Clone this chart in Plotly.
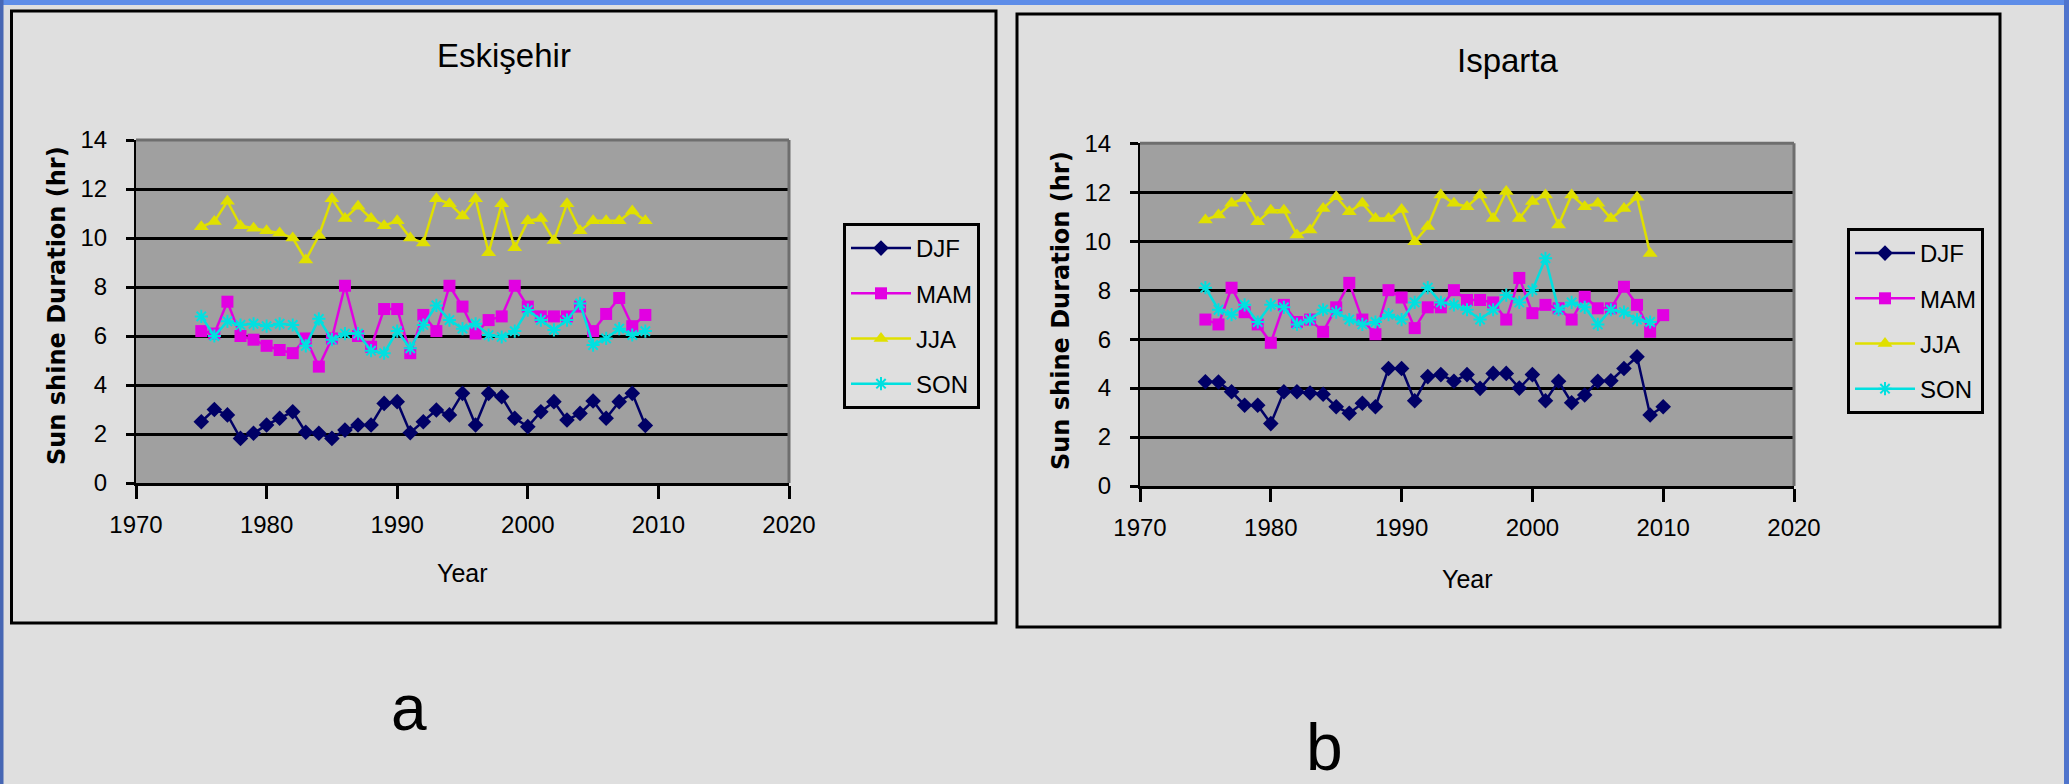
import plotly.graph_objects as go

W, H = 2069, 784

# ---------------- data ----------------
years_e = list(range(1975, 2010))
e_djf = [2.5, 3.0, 2.78, 1.82, 2.03, 2.37, 2.64, 2.91, 2.07, 2.03,
         1.82, 2.16, 2.37, 2.37, 3.25, 3.32, 2.05, 2.5, 2.98, 2.78,
         3.66, 2.37, 3.66, 3.52, 2.64, 2.3, 2.91, 3.32, 2.57, 2.84,
         3.35, 2.64, 3.32, 3.66, 2.35]
e_mam = [6.2, 6.1, 7.4, 6.0, 5.85, 5.6, 5.43, 5.3, 5.9, 4.75,
         5.9, 8.05, 6.0, 5.56, 7.1, 7.1, 5.3, 6.86, 6.2, 8.05,
         7.2, 6.1, 6.65, 6.8, 8.05, 7.2, 6.8, 6.8, 6.8, 7.2,
         6.2, 6.9, 7.55, 6.4, 6.86]
e_jja = [10.46, 10.67, 11.5, 10.5, 10.4, 10.3, 10.2, 10.0, 9.1, 10.1,
         11.6, 10.8, 11.3, 10.8, 10.5, 10.7, 10.0, 9.8, 11.6, 11.4,
         10.9, 11.6, 9.4, 11.4, 9.6, 10.7, 10.8, 9.9, 11.4, 10.3,
         10.7, 10.7, 10.7, 11.1, 10.7]
e_son = [6.8, 6.0, 6.6, 6.45, 6.5, 6.4, 6.5, 6.45, 5.6, 6.7,
         5.85, 6.1, 6.1, 5.4, 5.3, 6.2, 5.5, 6.45, 7.25, 6.65,
         6.3, 6.5, 6.04, 5.96, 6.2, 7.06, 6.65, 6.25, 6.65, 7.33,
         5.63, 5.9, 6.3, 6.04, 6.2]

years_i_long = list(range(1975, 2011))
years_i_short = list(range(1975, 2010))
i_djf = [4.26, 4.25, 3.85, 3.3, 3.3, 2.55, 3.85, 3.85, 3.8, 3.75,
         3.24, 2.97, 3.38, 3.24, 4.8, 4.8, 3.48, 4.47, 4.55, 4.28,
         4.55, 3.99, 4.6, 4.6, 4.0, 4.55, 3.48, 4.28, 3.4, 3.72,
         4.28, 4.3, 4.8, 5.28, 2.9, 3.24]
i_mam = [6.8, 6.6, 8.1, 7.1, 6.6, 5.85, 7.4, 6.7, 6.8, 6.3,
         7.3, 8.3, 6.8, 6.2, 8.0, 7.7, 6.45, 7.3, 7.3, 8.0,
         7.6, 7.6, 7.5, 6.8, 8.5, 7.06, 7.4, 7.26, 6.8, 7.73,
         7.26, 7.26, 8.14, 7.4, 6.3, 6.98]
i_jja = [10.87, 11.07, 11.55, 11.75, 10.8, 11.27, 11.27, 10.25, 10.46, 11.34,
         11.82, 11.2, 11.55, 10.93, 10.93, 11.3, 9.98, 10.6, 11.89, 11.55,
         11.41, 11.89, 10.93, 12.03, 10.93, 11.62, 11.89, 10.66, 11.89, 11.41,
         11.55, 10.93, 11.34, 11.8, 9.5]
i_son = [8.1, 7.2, 7.0, 7.4, 6.7, 7.4, 7.3, 6.6, 6.8, 7.2,
         7.1, 6.8, 6.6, 6.7, 7.0, 6.8, 7.5, 8.1, 7.5, 7.4,
         7.2, 6.8, 7.2, 7.8, 7.5, 8.0, 9.3, 7.2, 7.5, 7.3,
         6.6, 7.2, 7.1, 6.8, 6.7]

series_names = ["DJF", "MAM", "JJA", "SON"]
titles = ["Eskişehir", "Isparta"]
x_title = "Year"
y_title = "Sun shine Duration (hr)"
panel_labels = ["a", "b"]

# ---------------- styling ----------------
colors = {"DJF": "#000066", "MAM": "#E200E2", "JJA": "#E0E000", "SON": "#00E0E0"}
symbols = {"DJF": "diamond", "MAM": "square", "JJA": "triangle-up", "SON": "asterisk-open"}
sizes = {"DJF": 12, "MAM": 12, "JJA": 13, "SON": 11}
BG = "#DFDFDF"
PLOT_BG = "#A0A0A0"
FONT = "Liberation Sans, Arial, sans-serif"


def px(x):
    return x / W


def py(y):
    return 1 - y / H


fig = go.Figure()


def add(xs, ys, name, xa, ya, legend, group):
    fig.add_trace(go.Scatter(
        x=xs, y=ys, name=name, mode="lines+markers",
        line=dict(color=colors[name], width=2.5),
        marker=dict(symbol=symbols[name], size=sizes[name], color=colors[name],
                    line=dict(color=colors[name], width=2 if name == "SON" else 0)),
        xaxis=xa, yaxis=ya, legend=legend, legendgroup=group,
    ))


add(years_e, e_djf, "DJF", "x", "y", "legend", "e1")
add(years_e, e_mam, "MAM", "x", "y", "legend", "e2")
add(years_e, e_jja, "JJA", "x", "y", "legend", "e3")
add(years_e, e_son, "SON", "x", "y", "legend", "e4")
add(years_i_long, i_djf, "DJF", "x2", "y2", "legend2", "i1")
add(years_i_long, i_mam, "MAM", "x2", "y2", "legend2", "i2")
add(years_i_short, i_jja, "JJA", "x2", "y2", "legend2", "i3")
add(years_i_short, i_son, "SON", "x2", "y2", "legend2", "i4")

plots = [
    dict(x0=136, x1=789, y0=140, y1=483),
    dict(x0=1140, x1=1794, y0=143.3, y1=486),
]

xaxis_common = dict(range=[1970, 2020], dtick=10, tick0=1970, showgrid=False, zeroline=False,
                    showline=True, linecolor="black", linewidth=3, automargin=False,
                    ticks="outside", ticklen=13, tickwidth=3, tickcolor="black",
                    ticklabelstandoff=5,
                    tickfont=dict(family=FONT, size=24, color="black"))
yaxis_common = dict(range=[0, 14], dtick=2, tick0=0, showgrid=True, gridcolor="black", gridwidth=3,
                    zeroline=False, showline=True, linecolor="black", linewidth=2, automargin=False,
                    ticks="outside", ticklen=8, tickwidth=3, tickcolor="black",
                    ticklabelstandoff=14,
                    tickfont=dict(family=FONT, size=24, color="black"))

fig.update_layout(
    xaxis=dict(domain=[px(plots[0]["x0"]), px(plots[0]["x1"])], anchor="y", **xaxis_common),
    yaxis=dict(domain=[py(plots[0]["y1"]), py(plots[0]["y0"])], anchor="x", **yaxis_common),
    xaxis2=dict(domain=[px(plots[1]["x0"]), px(plots[1]["x1"])], anchor="y2", **xaxis_common),
    yaxis2=dict(domain=[py(plots[1]["y1"]), py(plots[1]["y0"])], anchor="x2", **yaxis_common),
)

legend_common = dict(bgcolor=BG, bordercolor="black", borderwidth=3,
                     font=dict(family=FONT, size=24, color="black"),
                     itemwidth=60, tracegroupgap=11, traceorder="grouped",
                     xanchor="left", yanchor="top")
fig.update_layout(
    legend=dict(x=px(843), y=py(223), **legend_common),
    legend2=dict(x=px(1847), y=py(228), **legend_common),
)

shapes = []
# page edges
shapes.append(dict(type="rect", xref="paper", yref="paper", x0=0, x1=1, y0=py(5), y1=1,
                   fillcolor="#5E8DE8", line=dict(width=0), layer="below"))
shapes.append(dict(type="rect", xref="paper", yref="paper", x0=0, x1=px(3.5), y0=0, y1=1,
                   fillcolor="#4767B4", line=dict(width=0), layer="below"))
shapes.append(dict(type="rect", xref="paper", yref="paper", x0=px(2064), x1=1, y0=0, y1=1,
                   fillcolor="#4F74CC", line=dict(width=0), layer="below"))
# chart frames
for (x0, y0, x1, y1) in [(11.5, 11, 996, 623), (1017, 14, 2000, 627)]:
    shapes.append(dict(type="rect", xref="paper", yref="paper", x0=px(x0), x1=px(x1), y0=py(y1), y1=py(y0),
                       line=dict(color="black", width=3), fillcolor="rgba(0,0,0,0)", layer="below"))
# plot area top/right gray borders
for p in plots:
    shapes.append(dict(type="line", xref="paper", yref="paper", x0=px(p["x0"]), x1=px(p["x1"]),
                       y0=py(p["y0"]), y1=py(p["y0"]), line=dict(color="#6E6E6E", width=3), layer="above"))
    shapes.append(dict(type="line", xref="paper", yref="paper", x0=px(p["x1"]), x1=px(p["x1"]),
                       y0=py(p["y0"]), y1=py(p["y1"]), line=dict(color="#6E6E6E", width=3), layer="above"))

annotations = []


def ann(text, x, y, size, family=FONT, angle=0, bold=False):
    annotations.append(dict(text=f"<b>{text}</b>" if bold else text, x=px(x), y=py(y),
                            xref="paper", yref="paper", showarrow=False,
                            xanchor="center", yanchor="middle", textangle=angle,
                            font=dict(family=family, size=size, color="black")))


ann(titles[0], 504, 55, 33)
ann(titles[1], 1508, 60, 33)
ann(x_title, 462, 573, 25)
ann(x_title, 1467, 579, 25)
ann(y_title, 57, 306, 24, family="DejaVu Sans, sans-serif", angle=-90, bold=True)
ann(y_title, 1061, 311, 24, family="DejaVu Sans, sans-serif", angle=-90, bold=True)
ann(panel_labels[0], 409, 708, 64)
ann(panel_labels[1], 1324, 747, 66)

fig.update_layout(
    width=W, height=H, autosize=False,
    margin=dict(l=0, r=0, t=0, b=0, pad=0, autoexpand=False),
    paper_bgcolor=BG, plot_bgcolor=PLOT_BG,
    shapes=shapes, annotations=annotations,
    showlegend=True,
)

fig.write_html("out.html", config={"displayModeBar": False},
               post_script="document.body.style.margin='0px';document.body.style.overflow='hidden';")
